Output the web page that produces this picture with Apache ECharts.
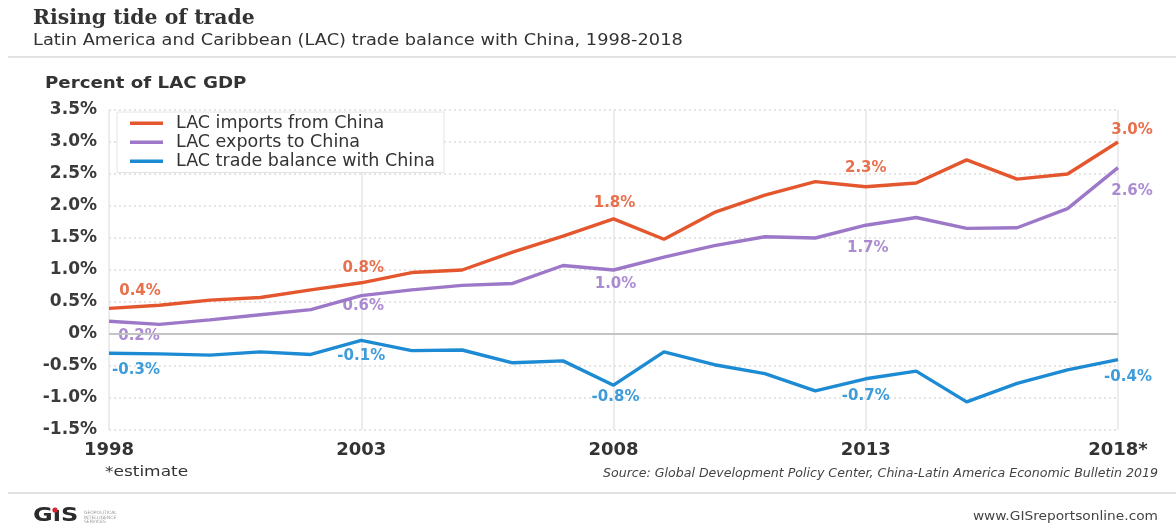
<!DOCTYPE html>
<html>
<head>
<meta charset="utf-8">
<script src="https://cdn.jsdelivr.net/npm/echarts@6/dist/echarts.min.js"></script>
<style>
  html, body { margin: 0; padding: 0; background: #fff; }
  #chart { width: 1176px; height: 525px; }
</style>
</head>
<body>
<div id="chart"></div>
<script>
// Years 1998-2018, trade with China as percent of LAC GDP
const years = [1998, 1999, 2000, 2001, 2002, 2003, 2004, 2005, 2006, 2007, 2008,
               2009, 2010, 2011, 2012, 2013, 2014, 2015, 2016, 2017, 2018];
const importsFromChina = [0.4, 0.45, 0.53, 0.57, 0.69, 0.8, 0.96, 1.0, 1.28, 1.53, 1.8,
                          1.48, 1.9, 2.17, 2.38, 2.3, 2.36, 2.72, 2.42, 2.5, 3.0];
const exportsToChina = [0.2, 0.15, 0.22, 0.3, 0.38, 0.6, 0.69, 0.76, 0.79, 1.07, 1.0,
                        1.2, 1.38, 1.52, 1.5, 1.7, 1.82, 1.65, 1.66, 1.96, 2.6];
const tradeBalance = [-0.3, -0.31, -0.33, -0.28, -0.32, -0.1, -0.26, -0.25, -0.45, -0.42, -0.8,
                      -0.28, -0.48, -0.62, -0.89, -0.7, -0.58, -1.06, -0.77, -0.56, -0.4];
const labelledYears = [1998, 2003, 2008, 2013, 2018];
const xTickLabels = { 1998: '1998', 2003: '2003', 2008: '2008', 2013: '2013', 2018: '2018*' };
const seriesNames = ['LAC imports from China', 'LAC exports to China', 'LAC trade balance with China'];

const COLORS = ['#e4572e', '#9d78c9', '#1d8bd3'];
const SANS = '"DejaVu Sans", "Open Sans", sans-serif';

// label offsets (dx, dy) for the value tags, per series, in labelledYears order
const tagOffsets = [
  [[31, -17], [2, -15], [1, -16], [0, -19], [14, -12]],
  [[30, 15], [2, 11], [2, 14], [2, 23], [14, 24]],
  [[27, 17], [0, 16], [2, 12], [0, 17], [10, 18]]
];

function buildData(values, si) {
  return years.map((y, i) => {
    const k = labelledYears.indexOf(y);
    const item = { value: [y, values[i]] };
    if (k >= 0) {
      item.label = {
        show: true,
        position: 'inside',
        offset: tagOffsets[si][k],
        formatter: (p) => p.value[1].toFixed(1) + '%'
      };
    }
    return item;
  });
}

function lineSeries(values, si) {
  return {
    name: seriesNames[si],
    type: 'line',
    data: buildData(values, si),
    symbol: 'circle',
    symbolSize: 0.1,
    showAllSymbol: true,
    itemStyle: { color: COLORS[si], opacity: 0 },
    lineStyle: { color: COLORS[si], width: 3.4 },
    color: COLORS[si],
    z: 5 - si,
    label: {
      show: false,
      color: COLORS[si],
      opacity: 0.85,
      fontFamily: SANS,
      fontWeight: 'bold',
      fontSize: 15
    },
    emphasis: { disabled: true },
    silent: true
  };
}

// plain text block placed by its anchor point, widened a little horizontally
function label(text, x, y, font, opts) {
  const o = opts || {};
  return {
    type: 'text', x: x, y: y, scaleX: o.sx || 1, silent: true,
    style: {
      text: text, font: font, fill: o.fill || '#333',
      align: o.align || 'left', textAlign: o.align || 'left',
      verticalAlign: 'top', textVerticalAlign: 'top',
      lineHeight: o.lineHeight
    }
  };
}

const chart = echarts.init(document.getElementById('chart'), null, { renderer: 'canvas' });

chart.setOption({
  animation: false,
  backgroundColor: '#ffffff',
  grid: { left: 109, right: 58, top: 110, bottom: 95, containLabel: false },
  legend: {
    left: 117, top: 112,
    orient: 'vertical',
    itemGap: 0.5,
    itemWidth: 33, itemHeight: 3.5,
    icon: 'rect',
    padding: [2, 9, 2, 13],
    backgroundColor: '#fff',
    borderColor: '#e4e4e4',
    borderWidth: 1,
    textStyle: { fontFamily: SANS, fontSize: 17.5, lineHeight: 18.5, color: '#333', padding: [0, 0, 0, 8] },
    data: seriesNames.map((n, i) => ({ name: n, itemStyle: { color: COLORS[i], opacity: 1 } }))
  },
  xAxis: {
    type: 'value',
    min: 1998, max: 2018, interval: 5,
    axisLine: { show: false },
    axisTick: { show: false },
    splitLine: { show: true, lineStyle: { color: '#e6e6e6', width: 1.5 } },
    axisLabel: {
      margin: 11,
      fontFamily: SANS, fontWeight: 'bold', fontSize: 18, color: '#333',
      formatter: (v) => xTickLabels[v] || ''
    }
  },
  yAxis: {
    type: 'value',
    min: -1.5, max: 3.5, interval: 0.5,
    axisLine: { show: false },
    axisTick: { show: false },
    splitLine: { show: true, lineStyle: { color: '#dcdcdc', type: [2, 3], width: 1.5 } },
    axisLabel: {
      margin: 12,
      fontFamily: SANS, fontWeight: 'bold', fontSize: 17, color: '#3a3a3a',
      formatter: (v) => (v === 0 ? '0%' : v.toFixed(1) + '%')
    }
  },
  series: [
    lineSeries(importsFromChina, 0),
    lineSeries(exportsToChina, 1),
    lineSeries(tradeBalance, 2),
    {
      // solid zero baseline
      type: 'line', data: [], silent: true,
      markLine: {
        silent: true, symbol: 'none', label: { show: false },
        lineStyle: { color: '#c4c4c4', width: 2, type: 'solid' },
        data: [{ yAxis: 0 }]
      }
    }
  ],
  graphic: [
    label('Rising tide of trade', 33, 9, 'bold 20px "DejaVu Serif", "Liberation Serif", serif', { sx: 1.02 }),
    label('Latin America and Caribbean (LAC) trade balance with China, 1998-2018', 33, 33,
          '15.5px "DejaVu Sans", sans-serif', { sx: 1.147 }),
    { type: 'rect', shape: { x: 8, y: 56, width: 1168, height: 2 }, style: { fill: '#e2e2e2' }, silent: true },
    label('Percent of LAC GDP', 45, 76, 'bold 15.5px "DejaVu Sans", sans-serif', { sx: 1.175 }),
    label('*estimate', 105, 465, '14.5px "DejaVu Sans", sans-serif', { sx: 1.17 }),
    label('Source: Global Development Policy Center, China-Latin America Economic Bulletin 2019', 1158, 468,
          'italic 11.5px "DejaVu Sans", sans-serif', { sx: 1.095, align: 'right', fill: '#444' }),
    { type: 'rect', shape: { x: 8, y: 492, width: 1168, height: 2 }, style: { fill: '#e2e2e2' }, silent: true },
    label('G\u0131S', 33, 506, 'bold 20px "DejaVu Sans", sans-serif', { sx: 1.2, fill: '#2b2b2b' }),
    { type: 'circle', shape: { cx: 55, cy: 510, r: 2.6 }, style: { fill: '#d7262b' }, silent: true },
    label('GEOPOLITICAL\nINTELLIGENCE\nSERVICES', 84, 511, '4.5px "DejaVu Sans", sans-serif',
          { fill: '#9a9a9a', lineHeight: 4.5 }),
    label('www.GISreportsonline.com', 1158, 510, '12.5px "DejaVu Sans", sans-serif',
          { sx: 1.1, align: 'right', fill: '#444' })
  ]
});
</script>
</body>
</html>
